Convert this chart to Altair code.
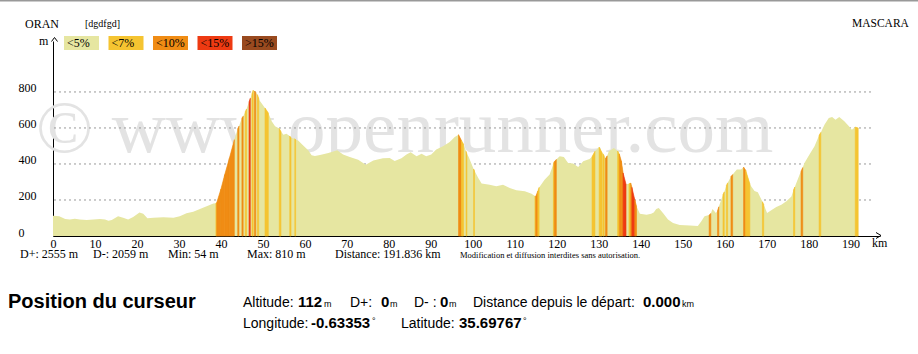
import altair as alt
import pandas as pd

# ---------------- data ----------------
KM = [0.0, 1.5, 2.9, 4.0, 5.2, 6.4, 8.0, 9.6, 11.2, 12.4, 13.2, 14.0, 15.5, 16.7, 17.9, 19.1, 20.6, 21.5,
      22.5, 23.9, 26.3, 28.7, 30.2, 31.8, 33.4, 35.0, 36.6, 38.2,
      38.8, 39.0, 40.0, 40.9, 42.0, 43.2, 44.0, 44.3, 45.0, 45.3, 45.8, 46.1, 46.7, 47.0, 47.4, 47.7,
      48.0, 48.3, 48.7, 49.0, 49.3, 50.5, 51.3, 52.1, 52.9, 53.9, 54.3, 54.9, 55.6, 56.4, 56.7, 57.6,
      57.8, 58.4, 59.6, 60.8, 61.6, 62.4, 63.6, 65.6, 67.7, 69.1, 70.7, 72.7, 74.5, 76.3, 78.6, 80.2,
      81.4, 83.0, 84.2, 85.2, 86.6, 87.8, 88.9, 90.1, 91.3, 92.9, 94.5, 95.7,
      96.6, 97.3, 97.8, 98.4, 98.6, 99.0, 100.2, 100.4, 101.3, 102.1, 104.0, 105.6, 107.2, 108.8,
      110.4, 112.4, 114.0, 114.8, 115.0, 115.5, 115.8, 117.1, 118.3, 119.2, 119.4, 119.9, 120.7,
      121.7, 122.7, 123.9, 125.1, 126.3, 127.8, 128.4, 129.1, 130.1, 130.8, 131.0, 131.3, 131.6,
      132.0, 132.4, 133.6, 134.5, 134.9, 135.4, 135.8, 136.5, 137.2, 137.6, 137.9, 138.6, 139.0,
      139.8, 141.4, 142.5, 143.1, 143.7, 144.3, 145.3, 146.5, 147.7, 149.3, 151.7, 153.6, 154.4,
      155.2, 156.3, 156.7, 157.1, 157.9, 158.3, 158.6, 159.6, 159.9, 160.4, 160.7, 161.5, 161.9,
      162.9, 163.9, 164.5, 165.0, 166.0, 166.3, 167.1, 167.9, 169.0, 169.3, 170.1, 171.1, 172.3,
      173.5, 174.7, 175.9, 176.4, 176.7, 178.0, 178.2, 178.6, 179.0, 180.2, 181.4, 182.5, 182.9,
      183.8, 184.8, 185.6, 186.4, 187.3, 188.5, 189.6, 190.3, 191.1, 191.8]
ELEV = [112, 110, 94, 91, 96, 91, 89, 91, 94, 91, 85, 89, 109, 102, 91, 106, 130, 124,
        98, 102, 104, 102, 109, 126, 135, 150, 165, 180,
        182, 185, 260, 340, 430, 535, 595, 610, 655, 665, 690, 705, 745, 765, 790, 810,
        805, 798, 785, 765, 750, 711, 683, 637, 609, 597, 580, 563, 568, 555, 545, 540,
        535, 530, 502, 476, 448, 444, 450, 461, 476, 452, 439, 424, 396, 419, 432, 433,
        417, 432, 452, 465, 443, 457, 443, 452, 480, 498, 522, 550,
        563, 530, 510, 470, 455, 440, 372, 362, 322, 291, 285, 276, 285, 267,
        254, 248, 235, 222, 220, 250, 270, 313, 341, 400, 412, 425, 443,
        439, 406, 402, 383, 415, 428, 440, 470, 494, 462, 457, 445, 430,
        445, 470, 489, 472, 455, 415, 350, 288, 290, 294, 270, 200, 165,
        124, 118, 124, 130, 150, 155, 128, 91, 72, 61, 58, 56, 81,
        109, 116, 125, 150, 128, 140, 162, 230, 245, 280, 295, 330, 341,
        369, 369, 383, 365, 290, 276, 250, 243, 190, 175, 128, 143, 161,
        174, 193, 220, 255, 272, 350, 360, 380, 406, 452, 498, 560, 575,
        619, 656, 661, 646, 661, 637, 609, 590, 605, 600]
# slope class of the segment that starts at each point
a, b, c, d = "<5%", "<7%", "<10%", "<15%"
GRADE = ([a] * 28 +
         [b, c, c, c, c, a, c, a, c, a, b, a, d, a, b, a,
          c, a, b, a, a, b, a, a, a, b, a, a, a, b, a, b,
          a, a, a, a, a, a, a, a, a, a, a, a, a, a, a, a,
          a, a, a, a, a, a, a, a, a, a, a, a,
          c, b, a, b, a, a, b, a, a, a, a, a, a, a,
          a, a, a, b, c, b, a, a, a, b, c, a, a,
          a, a, a, a, a, a, b, a, b, a, b, a, c,
          a, a, a, b, c, c, d, a, b, c, d, c, a,
          a, a, a, a, a, a, a, a, a, a, a, a, a,
          a, c, a, a, a, c, a, b, a, b, a, c, a,
          a, a, c, b, a, a, a, a, b, a, a, a, a,
          a, a, a, b, a, a, c, a, a, a, a, b, a,
          a, a, a, a, a, a, a, a, b, a])

CLASSES = ["<5%", "<7%", "<10%", "<15%", ">15%"]
COLORS = ["#e6e6a1", "#f5c431", "#f08c14", "#ee3a12", "#994a1f"]
X_TICKS = list(range(0, 200, 10))
Y_TICKS = [0, 200, 400, 600, 800]
GRID_VALUES = [200, 400, 600, 800]
STATS = ["D+: 2555 m", "D-: 2059 m", "Min: 54 m", "Max: 810 m", "Distance: 191.836 km"]
STATS_X = [20, 93, 168, 247, 335]
NOTICE = "Modification et diffusion interdites sans autorisation."
START_NAME, END_NAME, TAG = "ORAN", "MASCARA", "[dgdfgd]"
WATERMARK = "\u00a9 www.openrunner.com"

# ---------------- layout ----------------
W, H = 827, 195
LEFT, TOP = 53, 41
X_MAX, Y_MAX = 197, 1083
SERIF = "Liberation Serif"
SANS = "Liberation Sans"

profile = pd.DataFrame({"km": KM, "elev": ELEV})
rows = []
for i in range(len(KM) - 1):
    if GRADE[i] != CLASSES[0]:
        rows.append({"km": KM[i], "elev": ELEV[i], "seg": i, "cls": GRADE[i]})
        rows.append({"km": KM[i + 1], "elev": ELEV[i + 1], "seg": i, "cls": GRADE[i]})
segs = pd.DataFrame(rows)
grid = pd.DataFrame({"elev": GRID_VALUES})

xs = alt.Scale(domain=[0, X_MAX], nice=False, zero=False)
ys = alt.Scale(domain=[0, Y_MAX], nice=False)
cs = alt.Scale(domain=CLASSES, range=COLORS)
one = pd.DataFrame({"k": [0]})


def txt(s, x, y, size=12, font=SERIF, weight="normal", color="black", align="left"):
    return alt.Chart(one).mark_text(
        text=s, font=font, fontSize=size, fontWeight=weight, color=color,
        align=align, baseline="alphabetic"
    ).encode(x=alt.value(x - LEFT), y=alt.value(y - TOP))


def line(x1, y1, x2, y2, color="black", width=1):
    return alt.Chart(one).mark_rule(color=color, strokeWidth=width).encode(
        x=alt.value(x1 - LEFT), y=alt.value(y1 - TOP),
        x2=alt.value(x2 - LEFT), y2=alt.value(y2 - TOP))


watermark = txt(WATERMARK, 36, 152, size=75, color="#e3e3e3")

gridlines = alt.Chart(grid).mark_rule(color="#999999", strokeDash=[2, 3], strokeWidth=1).encode(
    y=alt.Y("elev:Q", scale=ys), x=alt.value(1), x2=alt.value(872 - LEFT))

base = alt.Chart(profile).mark_area(color=COLORS[0], interpolate="linear").encode(
    x=alt.X("km:Q", scale=xs, axis=alt.Axis(
        values=X_TICKS, title=None, grid=False, tickSize=0, labelPadding=2,
        labelFont=SERIF, labelFontSize=12, labelColor="black", domainColor="black",
        labelFlush=False, labelOverlap=False)),
    y=alt.Y("elev:Q", scale=ys, stack=None, axis=alt.Axis(
        values=Y_TICKS, title=None, grid=False,
        tickSize=0, labelAlign="left", labelPadding=35, labelBaseline="alphabetic",
        labelFont=SERIF, labelFontSize=12, labelColor="black", domainColor="black",
        labelOverlap=False)),
)

stripes = alt.Chart(segs).mark_area(interpolate="linear", strokeWidth=0.6).encode(
    x=alt.X("km:Q", scale=xs),
    y=alt.Y("elev:Q", scale=ys, stack=None),
    detail="seg:N",
    color=alt.Color("cls:N", scale=cs, legend=None),
    stroke=alt.Stroke("cls:N", scale=cs, legend=None),
)

layers = [watermark, gridlines, base, stripes]

# header
layers.append(line(0, 0.5, 918, 0.5, color="#999999", width=2))
layers.append(txt(START_NAME, 25, 28, size=12))
layers.append(txt(TAG, 85, 27, size=10))
layers.append(txt(END_NAME, 852, 27, size=11.5))
layers.append(txt("m", 39, 45, size=12))
# axis arrows
layers.append(line(51.5, 41.5, 54.5, 37.5))
layers.append(line(54.5, 37.5, 57.5, 41.5))
layers.append(line(876, 232.5, 881, 235.5))
layers.append(line(881, 235.5, 876, 238.5))
layers.append(txt("km", 872, 247, size=12))

# legend boxes
for i, (lab, col) in enumerate(zip(CLASSES, COLORS)):
    x0 = 64 + 44.5 * i
    layers.append(alt.Chart(one).mark_rect(color=col).encode(
        x=alt.value(x0 - LEFT), x2=alt.value(x0 + 35 - LEFT),
        y=alt.value(36 - TOP), y2=alt.value(50 - TOP)))
    layers.append(txt(lab, x0 + 3, 47, size=12))

# stats
for s, x in zip(STATS, STATS_X):
    layers.append(txt(s, x, 258, size=12))
layers.append(txt(NOTICE, 460, 258, size=8.5))

# cursor panel
layers.append(txt("Position du curseur", 8, 308, size=20, font=SANS, weight="bold"))
PANEL = [
    ("Altitude:", 243, 307, 14, "normal"), ("112", 298, 307, 15, "bold"), ("m", 324, 307, 9, "normal"),
    ("D+:", 350, 307, 14, "normal"), ("0", 381, 307, 15, "bold"), ("m", 390, 307, 9, "normal"),
    ("D- :", 414, 307, 14, "normal"), ("0", 440, 307, 15, "bold"), ("m", 449, 307, 9, "normal"),
    ("Distance depuis le départ:", 473, 307, 14, "normal"), ("0.000", 643, 307, 15, "bold"),
    ("km", 682, 307, 9, "normal"),
    ("Longitude:", 243, 328, 14, "normal"), ("-0.63353", 311, 328, 15, "bold"), ("°", 372, 324, 9, "normal"),
    ("Latitude:", 401, 328, 14, "normal"), ("35.69767", 459, 328, 15, "bold"), ("°", 523, 324, 9, "normal"),
]
for s, x, y, sz, wt in PANEL:
    layers.append(txt(s, x, y, size=sz, font=SANS, weight=wt))

chart = alt.layer(*layers).properties(
    width=W, height=H,
    autosize=alt.AutoSizeParams(type="none"),
    padding={"left": LEFT, "top": TOP, "right": 918 - LEFT - W, "bottom": 354 - TOP - H},
    background="white",
).configure_view(stroke=None)

chart.save("out.html", embed_options={"renderer": "svg", "actions": False})
